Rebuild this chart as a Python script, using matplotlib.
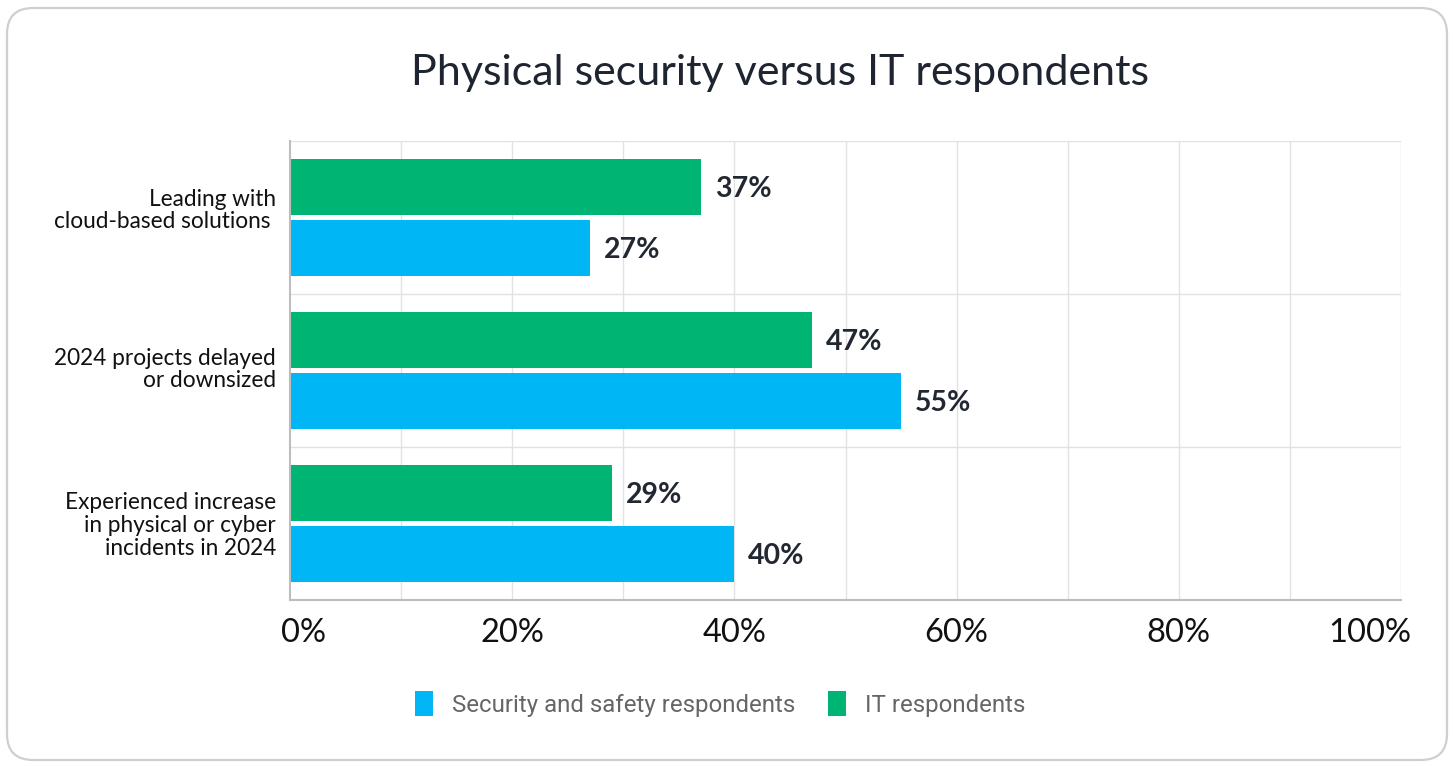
import matplotlib
matplotlib.use("Agg")
import matplotlib.pyplot as plt
from matplotlib.patches import FancyBboxPatch, Patch
from matplotlib.transforms import ScaledTranslation
import numpy as np

# Survey results (percent of respondents)
categories = [
    "Leading with\ncloud-based solutions ",
    "2024 projects delayed\nor downsized",
    "Experienced increase\nin physical or cyber\nincidents in 2024",
]
it_values = [37, 47, 29]
security_values = [27, 55, 40]
series_names = ["Security and safety respondents", "IT respondents"]
x_ticks = [0, 20, 40, 60, 80, 100]
x_tick_labels = ["0%", "20%", "40%", "60%", "80%", "100%"]
title = "Physical security versus IT respondents"

BLUE = "#00B6F4"
GREEN = "#00B474"
DARK = "#1f2530"

W, H = 1453, 766
fig = plt.figure(figsize=(W / 100, H / 100), dpi=100)
fig.patch.set_facecolor("white")

# Rounded card outline
card = FancyBboxPatch((7 / W, 6 / H), (1447 - 7) / W, (758 - 6) / H,
                      boxstyle="round,pad=0,rounding_size=0.018",
                      transform=fig.transFigure, facecolor="none",
                      edgecolor="#cfcfcf", linewidth=1.6, mutation_aspect=W / H,
                      zorder=0)
fig.patches.append(card)

fig.text(780 / W, 1 - 73 / H, title, ha="center", va="center",
         fontsize=31, color=DARK, family="Lato")

ax = fig.add_axes([290 / W, 1 - 600 / H, 1111 / W, 459 / H])
ax.set_facecolor("none")
y = np.arange(len(categories))
bar_h = 0.366
offset = 0.199

ax.barh(y - offset, it_values, height=bar_h, color=GREEN, zorder=3)
ax.barh(y + offset, security_values, height=bar_h, color=BLUE, zorder=3)

for yi, v in zip(y - offset, it_values):
    ax.annotate(f"{v}%", (v, yi), xytext=(14, -2), textcoords="offset pixels",
                ha="left", va="center", fontsize=20.5, fontweight="bold",
                color="#222831", family="Lato")
for yi, v in zip(y + offset, security_values):
    ax.annotate(f"{v}%", (v, yi), xytext=(14, -2), textcoords="offset pixels",
                ha="left", va="center", fontsize=20.5, fontweight="bold",
                color="#222831", family="Lato")

ax.set_xlim(0, 100)
ax.set_ylim(len(categories) - 0.5, -0.5)

# Grid: vertical every 10%, horizontal at category boundaries
for gx in range(10, 101, 10):
    ax.axvline(gx, color="#e2e2e2", linewidth=1, zorder=1)
for gy in np.arange(-0.5, len(categories), 1.0):
    ax.axhline(gy, color="#e2e2e2", linewidth=1, zorder=1)

ax.set_xticks(x_ticks)
ax.set_xticklabels(x_tick_labels, fontsize=23.5, family="Lato", color="#111111")
ax.tick_params(axis="x", length=0, pad=13)
ax.set_yticks(y)
ax.set_yticklabels(categories, fontsize=16.25, family="Lato", color="#111111",
                   linespacing=1.1)
ax.tick_params(axis="y", length=0, pad=10)

# Keep the end tick labels inside the plot width
xlabels = ax.get_xticklabels()
xlabels[0].set_transform(xlabels[0].get_transform()
                         + ScaledTranslation(14 / 100, 0, fig.dpi_scale_trans))
xlabels[-1].set_transform(xlabels[-1].get_transform()
                          + ScaledTranslation(-31 / 100, 0, fig.dpi_scale_trans))

# Nudge category labels upward
for lab, dy in zip(ax.get_yticklabels(), [10, 4, 1]):
    lab.set_transform(lab.get_transform()
                      + ScaledTranslation(0, dy / 100, fig.dpi_scale_trans))

for side in ["top", "right"]:
    ax.spines[side].set_visible(False)
for side in ["left", "bottom"]:
    ax.spines[side].set_color("#bdbdbd")
    ax.spines[side].set_linewidth(1.5)
    ax.spines[side].set_zorder(4)

handles = [Patch(facecolor=BLUE, edgecolor="none"),
           Patch(facecolor=GREEN, edgecolor="none")]
fig.legend(handles, series_names, loc="center", bbox_to_anchor=(720 / W, 1 - 704 / H),
           ncol=2, frameon=False, prop={"family": "Roboto", "size": 17.3},
           labelcolor="#666666", handlelength=0.75, handleheight=1.2,
           handletextpad=0.8, columnspacing=1.35)

fig.savefig("out.png", dpi=100, facecolor="white")
